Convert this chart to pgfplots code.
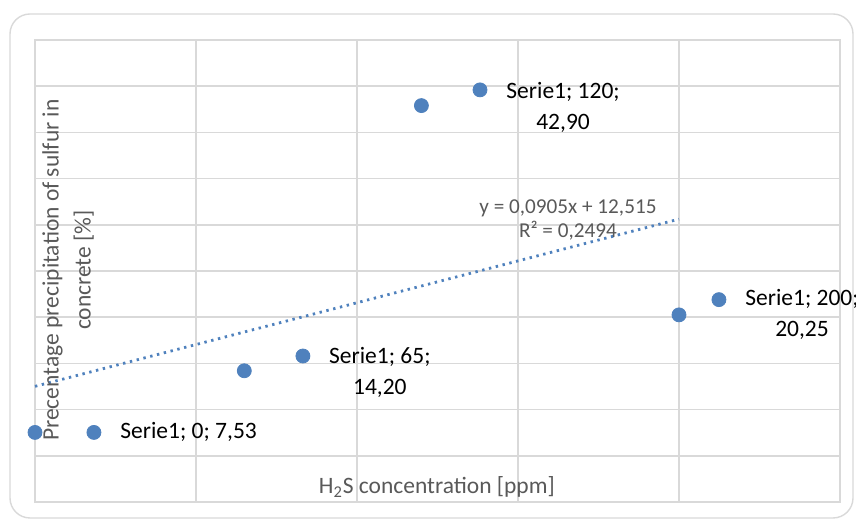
\documentclass[border=0pt]{standalone}
\usepackage{fontspec}
\setmainfont{Carlito}
\usepackage{pgfplots}
\pgfplotsset{compat=1.18}

\definecolor{serie}{HTML}{4F81BD}
\definecolor{gridc}{HTML}{D9D9D9}
\definecolor{txtgray}{HTML}{595959}

\newcommand\lbl{\fontsize{11.75}{15.5}\selectfont}
\newcommand\eqn{\fontsize{10.6}{12}\selectfont}

\begin{document}
\begin{tikzpicture}
\useasboundingbox (-17.5pt,-10pt) rectangle (410.5pt,251pt);
% outer chart frame
\draw[gridc, line width=0.7pt, rounded corners=10pt] (-12.5pt,-8pt) rectangle (409pt,244pt);

\begin{axis}[
    width=402.5pt, height=231pt,
    scale only axis,
    xmin=0, xmax=250,
    ymin=0, ymax=50,
    xtick={0,50,...,250},
    ytick={0,5,...,50},
    xticklabels={}, yticklabels={},
    major tick length=0pt,
    grid=major,
    grid style={gridc, line width=0.75pt},
    axis line style={gridc, line width=0.75pt},
    clip=false,
]

% measured points
\addplot[only marks, mark=*, mark size=3.5pt, mark options={draw=serie, fill=serie}] coordinates {
    (0, 7.53)
    (65, 14.20)
    (120, 42.90)
    (200, 20.25)
};

% linear trendline y = 0,0905x + 12,515
\addplot[serie, line width=1.4pt, line cap=butt, dash pattern=on 1.2pt off 2.3pt] coordinates {
    (0, 12.515)
    (200, 30.615)
};

% legend keys inside the data labels
\addplot[only marks, mark=*, mark size=3.5pt, mark options={draw=serie, fill=serie}] coordinates {
    (18.3, 7.53)
    (83.2, 15.8)
    (138.2, 44.6)
    (212.4, 21.9)
};

% data labels
\node[font=\lbl] at (axis cs:47.7,7.53) {Serie1; 0; 7,53};
\node[font=\lbl, align=center] at (axis cs:107.1,14.0) {Serie1; 65;\\14,20};
\node[font=\lbl, align=center] at (axis cs:164.0,42.7) {Serie1; 120;\\42,90};
\node[font=\lbl, align=center] at (axis cs:238.2,20.26) {Serie1; 200;\\20,25};

% trendline equation
\node[font=\eqn, text=txtgray, align=center] at (axis cs:165.5,30.55) {y = 0,0905x + 12,515\\R² = 0,2494};

% axis titles (placed inside the plot area)
\node[font=\fontsize{11.75}{16}\selectfont, text=txtgray, rotate=90, align=center] at (axis cs:10.3,25.1)
    {Precentage precipitation of sulfur in\\concrete [\%]};
\node[font=\lbl, text=txtgray] at (axis cs:124.8,1.6) {H\textsubscript{2}S concentration [ppm]};

\end{axis}
\end{tikzpicture}
\end{document}
